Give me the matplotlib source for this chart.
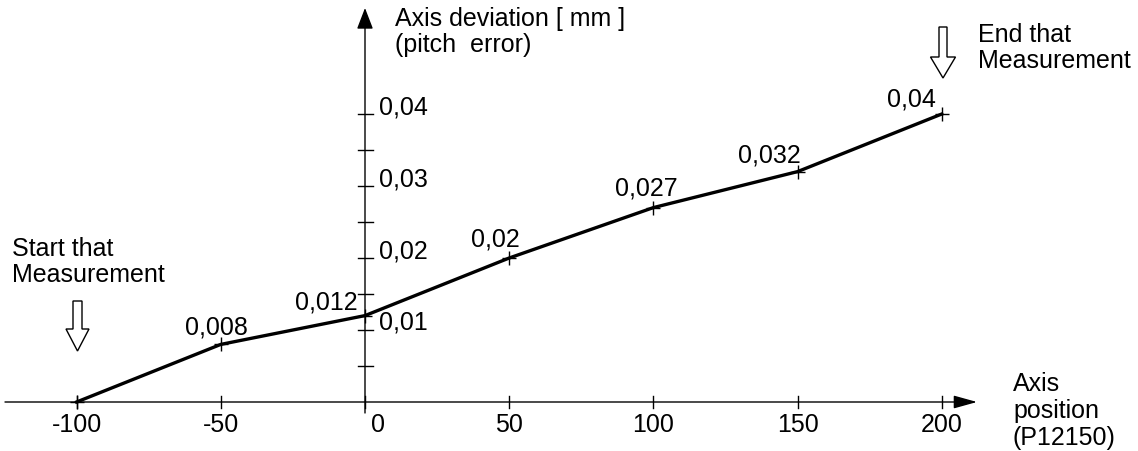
import matplotlib
matplotlib.use("Agg")
import matplotlib.pyplot as plt
from matplotlib.patches import Polygon

# ---- data ----
positions = [-100, -50, 0, 50, 100, 150, 200]
deviation = [0.0, 0.008, 0.012, 0.02, 0.027, 0.032, 0.04]
point_labels = ["0,008", "0,012", "0,02", "0,027", "0,032", "0,04"]
x_tick_values = [-100, -50, 0, 50, 100, 150, 200]
x_tick_labels = ["-100", "-50", "0", "50", "100", "150", "200"]
y_tick_values = [0.005, 0.01, 0.015, 0.02, 0.025, 0.03, 0.035, 0.04]
y_label_values = [0.01, 0.02, 0.03, 0.04]
y_label_texts = ["0,01", "0,02", "0,03", "0,04"]

W, H = 1138, 452
DPI = 100
plt.rcParams['font.family'] = ['Liberation Sans', 'DejaVu Sans']
FS = 18

fig = plt.figure(figsize=(W / DPI, H / DPI), dpi=DPI)
ax = fig.add_axes([0, 0, 1, 1])
ax.set_axis_off()

# pixel mapping: x=0 at px 365, 50 units = 144.2 px ; y=0 at py 403, 0.01 = 72 px
X0, SX = 365.0, 144.2 / 50
Y0, SY = 403.0, 7200.0
ax.set_xlim(-X0 / SX, (W - X0) / SX)
ax.set_ylim(-(H - Y0) / SY, Y0 / SY)

def px(v):
    """pixel offset -> data x offset"""
    return v / SX

def py(v):
    """pixel offset -> data y offset"""
    return v / SY

# axes
ax.annotate('', xy=(px(612), 0), xytext=(px(-360), 0),
            arrowprops=dict(arrowstyle='-|>,head_length=0.72,head_width=0.2',
                            color='black', lw=1.0, shrinkA=0, shrinkB=0,
                            mutation_scale=20))
ax.annotate('', xy=(0, py(394)), xytext=(0, py(-11)),
            arrowprops=dict(arrowstyle='-|>,head_length=0.65,head_width=0.25',
                            color='black', lw=1.0, shrinkA=0, shrinkB=0,
                            mutation_scale=20))

# y ticks
for v in y_tick_values:
    ax.plot([px(-7), px(8)], [v, v], color='black', lw=1.0)
# x ticks
for v in x_tick_values:
    ax.plot([v, v], [py(-6), py(6)], color='black', lw=1.0)

# data line
ax.plot(positions, deviation, color='black', lw=2.4, solid_joinstyle='round')
ax.plot(positions, deviation, ls='none', marker='+', ms=10, mew=1.0, color='black')

# x tick labels
for v, t in zip(x_tick_values, x_tick_labels):
    off = px(13) if v == 0 else 0
    ax.text(v + off, py(-22), t, ha='center', va='center', fontsize=FS)

# y tick labels
for v, t in zip(y_label_values, y_label_texts):
    ax.text(px(14), v + py(8), t, ha='left', va='center', fontsize=FS)

# point labels (offsets in px)
offsets = [(-4, 18, 'center'), (-7, 14, 'right'), (-14, 19, 'center'),
           (-7, 20, 'center'), (-28, 17, 'center'), (-30, 15, 'center')]
for xv, yv, t, (dx, dy, ha) in zip(positions[1:], deviation[1:], point_labels, offsets):
    ax.text(xv + px(dx), yv + py(dy), t, ha=ha, va='center', fontsize=FS)

# annotation texts (figure pixel coords)
def ftext(xp, yp, s, **kw):
    fig.text(xp / W, 1 - yp / H, s, fontsize=FS, **kw)

ftext(395, 32, "Axis deviation [ mm ]\n(pitch  error)", ha='left', va='center', linespacing=1.1)
ftext(12, 262, "Start that\nMeasurement", ha='left', va='center', linespacing=1.15)
ftext(978, 48, "End that\nMeasurement", ha='left', va='center', linespacing=1.15)
ftext(1013, 411, "Axis\nposition\n(P12150)", ha='left', va='center', linespacing=1.15)

# hollow arrows
def hollow_arrow(cx, top, tip, head_top, shaft_hw, head_hw):
    pts = [(cx - shaft_hw, top), (cx + shaft_hw, top), (cx + shaft_hw, head_top),
           (cx + head_hw, head_top), (cx, tip), (cx - head_hw, head_top),
           (cx - shaft_hw, head_top)]
    pts = [(x / W, 1 - y / H) for x, y in pts]
    fig.patches.append(Polygon(pts, closed=True, fc='white', ec='black', lw=1.0,
                               transform=fig.transFigure))

hollow_arrow(77.5, 302, 352, 330, 4.5, 11.5)
hollow_arrow(943, 28, 79, 58, 4.0, 12.5)

fig.savefig('out.png', dpi=DPI)
